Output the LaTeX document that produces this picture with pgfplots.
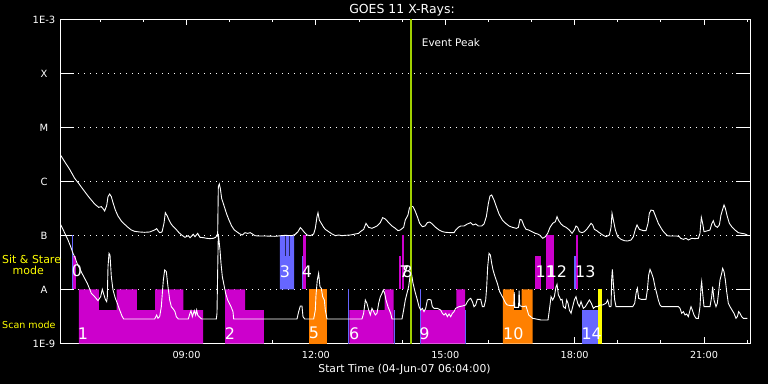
\documentclass[border=0pt]{standalone}
\usepackage{fontspec}
\setmainfont{DejaVu Sans}
\usepackage{pgfplots}
\pgfplotsset{compat=1.18}
\definecolor{mag}{RGB}{204,0,204}
\definecolor{sblue}{RGB}{102,102,255}
\definecolor{orng}{RGB}{255,128,0}
\definecolor{yel}{RGB}{255,255,0}
\definecolor{evt}{RGB}{160,208,0}
\begin{document}
\begin{tikzpicture}
\fill[black] (0,0) rectangle (768bp,384bp);
\path[use as bounding box] (0,0) rectangle (768bp,384bp);
\begin{axis}[
  at={(60bp,40.5bp)}, anchor=south west,
  scale only axis, width=690bp, height=324bp,
  xmin=6.0667, xmax=22.0667, ymin=-9, ymax=-3,
  axis line style={white, line width=1bp},
  xtick={9,12,15,18,21},
  xticklabels={09:00,12:00,15:00,18:00,21:00},
  minor xtick={7,8,10,11,13,14,16,17,19,20,22},
  ytick={-9,-8,-7,-6,-5,-4,-3},
  yticklabels={1E-9,A,B,C,M,X,1E-3},
  tick align=inside,
  tick style={white, line width=1bp},
  major tick length=6bp, minor tick length=3bp,
  ytick style={/pgfplots/major tick length=14bp},
  ymajorgrids,
  major grid style={white, line width=1bp, dash pattern=on 1bp off 5bp},
  ticklabel style={text=white},
  xticklabel style={font=\fontsize{9.7}{11}\selectfont, anchor=base, yshift=-14.8bp},
  yticklabel style={font=\fontsize{10}{12}\selectfont, anchor=center, xshift=-16bp},
  clip=true,
]
% ---- Scan mode / Sit & Stare bars ----
\addplot[fill=mag, draw=none] coordinates {(6.507,-9) (6.507,-8) (6.971,-8) (6.971,-8.38) (7.381,-8.38) (7.381,-8) (7.852,-8) (7.852,-8.38) (8.270,-8.38) (8.270,-8) (8.926,-8) (8.926,-8.38) (9.383,-8.38) (9.383,-9)} -- cycle;
\addplot[fill=mag, draw=none] coordinates {(9.893,-9) (9.893,-8) (10.357,-8) (10.357,-8.38) (10.797,-8.38) (10.797,-9)} -- cycle;
\addplot[fill=mag, draw=none] coordinates {(12.775,-9) (12.775,-8.38) (13.596,-8.38) (13.596,-8) (13.805,-8) (13.805,-9)} -- cycle;
\addplot[fill=mag, draw=none] coordinates {(14.438,-9) (14.438,-8.38) (15.256,-8.38) (15.256,-8) (15.458,-8) (15.458,-9)} -- cycle;
\addplot[fill=mag, draw=none] coordinates {(6.375,-8) (6.375,-7.38) (6.438,-7.38) (6.438,-8)} -- cycle;
\addplot[fill=mag, draw=none] coordinates {(11.702,-8) (11.702,-7) (11.764,-7) (11.764,-8)} -- cycle;
\addplot[fill=mag, draw=none] coordinates {(13.928,-8) (13.928,-7.38) (13.974,-7.38) (13.974,-8)} -- cycle;
\addplot[fill=mag, draw=none] coordinates {(13.997,-8) (13.997,-7) (14.037,-7) (14.037,-8)} -- cycle;
\addplot[fill=mag, draw=none] coordinates {(17.081,-8) (17.081,-7.38) (17.220,-7.38) (17.220,-8)} -- cycle;
\addplot[fill=mag, draw=none] coordinates {(17.336,-8) (17.336,-7) (17.515,-7) (17.515,-8)} -- cycle;
\addplot[fill=mag, draw=none] coordinates {(18.025,-8) (18.025,-7) (18.072,-7) (18.072,-8)} -- cycle;
\addplot[fill=sblue, draw=none] coordinates {(6.338,-8) (6.338,-7) (6.375,-7) (6.375,-8)} -- cycle;
\addplot[fill=sblue, draw=none] coordinates {(11.168,-8) (11.168,-7) (11.280,-7) (11.280,-7.38) (11.300,-7.38) (11.300,-7) (11.378,-7) (11.378,-7.38) (11.398,-7.38) (11.398,-7) (11.493,-7) (11.493,-8)} -- cycle;
\addplot[fill=sblue, draw=none] coordinates {(11.678,-8) (11.678,-7.38) (11.702,-7.38) (11.702,-8)} -- cycle;
\addplot[fill=sblue, draw=none] coordinates {(12.745,-9) (12.745,-8) (12.775,-8) (12.775,-9)} -- cycle;
\addplot[fill=sblue, draw=none] coordinates {(13.805,-9) (13.805,-8.38) (13.828,-8.38) (13.828,-9)} -- cycle;
\addplot[fill=sblue, draw=none] coordinates {(14.415,-9) (14.415,-8) (14.438,-8) (14.438,-9)} -- cycle;
\addplot[fill=sblue, draw=none] coordinates {(15.458,-9) (15.458,-8.38) (15.481,-8.38) (15.481,-9)} -- cycle;
\addplot[fill=sblue, draw=none] coordinates {(17.986,-8) (17.986,-7.38) (18.025,-7.38) (18.025,-8)} -- cycle;
\addplot[fill=sblue, draw=none] coordinates {(18.171,-9) (18.171,-8.38) (18.535,-8.38) (18.535,-9)} -- cycle;
\addplot[fill=orng, draw=none] coordinates {(11.841,-9) (11.841,-8) (12.251,-8) (12.251,-9)} -- cycle;
\addplot[fill=orng, draw=none] coordinates {(16.339,-9) (16.339,-8) (16.594,-8) (16.594,-8.38) (16.773,-8.38) (16.773,-8) (17.028,-8) (17.028,-9)} -- cycle;
\addplot[fill=yel, draw=none] coordinates {(18.535,-9) (18.535,-8) (18.635,-8) (18.635,-9)} -- cycle;
% ---- long channel ----
\addplot[white, line width=0.9bp] coordinates {
(6.070,-5.50) (6.175,-5.633) (6.291,-5.775) (6.407,-5.941) (6.499,-6.034) (6.600,-6.145) (6.716,-6.268) (6.793,-6.343) (6.870,-6.417) (6.963,-6.478) (7.025,-6.466) (7.071,-6.509) (7.102,-6.546) (7.149,-6.448) (7.180,-6.281) (7.218,-6.232) (7.257,-6.281) (7.296,-6.392) (7.350,-6.528) (7.411,-6.639) (7.489,-6.732) (7.566,-6.793) (7.643,-6.849) (7.721,-6.898) (7.798,-6.923) (7.914,-6.935) (8.030,-6.941) (8.146,-6.935) (8.262,-6.898) (8.308,-6.873) (8.339,-6.910) (8.378,-6.948) (8.432,-6.935) (8.478,-6.775) (8.509,-6.577) (8.555,-6.639) (8.594,-6.713) (8.648,-6.793) (8.710,-6.849) (8.733,-6.867) (8.772,-6.898) (8.826,-6.948) (8.888,-6.991) (8.965,-7.034) (9.042,-7.003) (9.081,-7.040) (9.158,-6.978) (9.197,-7.022) (9.259,-6.960) (9.313,-7.034) (9.390,-7.040) (9.467,-7.052) (9.545,-7.059) (9.622,-7.052) (9.676,-7.034) (9.707,-6.991) (9.722,-7.009) (9.738,-6.096) (9.761,-6.046) (9.784,-6.127) (9.815,-6.312) (9.877,-6.466) (9.931,-6.602) (9.985,-6.713) (10.047,-6.824) (10.109,-6.898) (10.163,-6.929) (10.240,-6.972) (10.294,-6.991) (10.356,-6.948) (10.418,-6.960) (10.480,-6.948) (10.526,-6.972) (10.588,-7.003) (10.666,-7.009) (10.820,-7.009) (11.052,-7.015) (11.284,-6.997) (11.446,-7.003) (11.523,-6.978) (11.585,-6.929) (11.639,-6.855) (11.678,-6.886) (11.740,-6.948) (11.794,-6.991) (11.871,-7.003) (11.949,-6.972) (11.987,-6.867) (12.026,-6.651) (12.049,-6.577) (12.080,-6.713) (12.126,-6.775) (12.180,-6.849) (12.219,-6.886) (12.296,-6.929) (12.374,-6.972) (12.451,-7.003) (12.528,-6.991) (12.606,-7.003) (12.683,-6.997) (12.799,-6.991) (12.876,-6.978) (12.992,-6.960) (13.031,-6.929) (13.108,-6.886) (13.162,-6.775) (13.224,-6.849) (13.301,-6.867) (13.417,-6.824) (13.494,-6.762) (13.548,-6.670) (13.610,-6.694) (13.688,-6.762) (13.765,-6.824) (13.842,-6.867) (13.904,-6.910) (13.958,-6.898) (14.035,-6.849) (14.074,-6.713) (14.136,-6.620) (14.167,-6.497) (14.198,-6.454) (14.253,-6.466) (14.299,-6.540) (14.353,-6.651) (14.407,-6.775) (14.469,-6.836) (14.531,-6.824) (14.585,-6.762) (14.639,-6.750) (14.701,-6.787) (14.778,-6.849) (14.856,-6.898) (14.933,-6.929) (15.010,-6.941) (15.126,-6.948) (15.204,-6.948) (15.242,-6.898) (15.304,-6.849) (15.358,-6.824) (15.435,-6.824) (15.513,-6.787) (15.590,-6.762) (15.644,-6.805) (15.706,-6.787) (15.768,-6.824) (15.845,-6.824) (15.899,-6.787) (15.953,-6.651) (16.000,-6.404) (16.038,-6.268) (16.077,-6.250) (16.131,-6.343) (16.185,-6.466) (16.247,-6.602) (16.324,-6.713) (16.402,-6.775) (16.479,-6.824) (16.556,-6.849) (16.649,-6.867) (16.695,-6.849) (16.734,-6.701) (16.773,-6.713) (16.827,-6.824) (16.873,-6.886) (16.935,-6.898) (17.012,-6.929) (17.089,-6.960) (17.144,-6.972) (17.198,-6.997) (17.260,-7.052) (17.321,-7.022) (17.375,-6.960) (17.429,-6.849) (17.491,-6.775) (17.553,-6.744) (17.592,-6.651) (17.623,-6.713) (17.685,-6.787) (17.739,-6.824) (17.801,-6.849) (17.878,-6.898) (17.940,-6.960) (17.994,-6.898) (18.032,-6.824) (18.071,-6.849) (18.110,-6.929) (18.172,-6.948) (18.226,-6.929) (18.280,-6.886) (18.326,-6.836) (18.380,-6.775) (18.419,-6.805) (18.458,-6.886) (18.512,-6.910) (18.574,-6.948) (18.651,-6.991) (18.728,-7.022) (18.806,-6.991) (18.844,-6.849) (18.867,-6.590) (18.898,-6.713) (18.945,-6.898) (18.999,-7.022) (19.076,-7.071) (19.153,-7.096) (19.230,-7.102) (19.308,-7.083) (19.362,-7.022) (19.408,-6.886) (19.447,-6.805) (19.501,-6.886) (19.593,-6.910) (19.655,-6.910) (19.702,-6.775) (19.732,-6.590) (19.771,-6.528) (19.825,-6.540) (19.887,-6.664) (19.941,-6.775) (19.995,-6.849) (20.042,-6.910) (20.096,-6.960) (20.150,-7.003) (20.212,-7.009) (20.366,-7.009) (20.428,-7.022) (20.459,-7.052) (20.521,-7.071) (20.583,-7.052) (20.637,-7.083) (20.714,-7.052) (20.792,-7.059) (20.869,-7.052) (20.907,-6.960) (20.938,-6.664) (20.969,-6.775) (21.000,-6.929) (21.062,-6.917) (21.139,-6.898) (21.178,-6.787) (21.216,-6.725) (21.255,-6.818) (21.309,-6.849) (21.356,-6.805) (21.394,-6.620) (21.433,-6.515) (21.464,-6.435) (21.495,-6.497) (21.541,-6.651) (21.588,-6.775) (21.642,-6.836) (21.719,-6.898) (21.796,-6.948) (21.874,-6.960) (21.951,-6.972) (22.005,-6.991)
};
% ---- short channel ----
\addplot[white, line width=0.9bp] coordinates {
(6.070,-6.78) (6.136,-6.886) (6.190,-6.978) (6.252,-7.083) (6.314,-7.207) (6.368,-7.330) (6.422,-7.423) (6.468,-7.528) (6.522,-7.608) (6.577,-7.701) (6.638,-7.793) (6.700,-7.886) (6.754,-7.991) (6.793,-8.071) (6.870,-8.133) (6.948,-8.207) (7.009,-8.133) (7.048,-7.997) (7.087,-8.102) (7.118,-8.182) (7.149,-8.225) (7.164,-8.133) (7.180,-7.577) (7.203,-7.330) (7.226,-7.361) (7.257,-7.762) (7.296,-8.009) (7.350,-8.164) (7.396,-8.256) (7.450,-8.380) (7.504,-8.491) (7.543,-8.546) (8.262,-8.546) (8.308,-8.472) (8.339,-8.534) (8.378,-8.503) (8.416,-8.318) (8.463,-7.824) (8.494,-7.639) (8.532,-7.670) (8.571,-7.948) (8.610,-8.194) (8.648,-8.318) (8.710,-8.380) (8.733,-8.410) (8.764,-8.503) (8.810,-8.546) (9.042,-8.546) (9.081,-8.441) (9.104,-8.392) (9.135,-8.503) (9.181,-8.392) (9.212,-8.472) (9.236,-8.380) (9.259,-8.472) (9.290,-8.503) (9.351,-8.546) (9.692,-8.546) (9.707,-8.441) (9.722,-7.701) (9.738,-6.972) (9.753,-7.083) (9.777,-7.269) (9.800,-7.515) (9.831,-7.762) (9.877,-7.948) (9.908,-8.071) (9.954,-8.194) (10.032,-8.318) (10.078,-8.410) (10.094,-8.546) (11.562,-8.546) (11.601,-8.410) (11.639,-8.306) (11.678,-8.306) (11.701,-8.503) (11.740,-8.546) (11.949,-8.546) (11.987,-8.380) (12.003,-8.102) (12.033,-7.824) (12.064,-7.701) (12.095,-7.948) (12.126,-7.978) (12.157,-8.133) (12.196,-8.194) (12.219,-8.380) (12.258,-8.546) (13.069,-8.546) (13.108,-8.441) (13.147,-8.194) (13.185,-8.256) (13.224,-8.380) (13.263,-8.472) (13.301,-8.349) (13.340,-8.410) (13.379,-8.472) (13.417,-8.441) (13.456,-8.256) (13.494,-8.133) (13.533,-8.071) (13.564,-8.009) (13.595,-8.071) (13.626,-8.194) (13.672,-8.318) (13.734,-8.441) (13.765,-8.546) (13.997,-8.546) (14.035,-8.380) (14.074,-8.194) (14.113,-8.071) (14.151,-7.948) (14.182,-7.762) (14.200,-7.701) (14.222,-7.731) (14.253,-7.886) (14.299,-8.040) (14.353,-8.194) (14.392,-8.318) (14.431,-8.380) (14.469,-8.349) (14.508,-8.410) (14.547,-8.349) (14.585,-8.194) (14.624,-8.182) (14.670,-8.194) (14.701,-8.318) (14.740,-8.349) (14.817,-8.349) (14.894,-8.380) (14.933,-8.441) (14.972,-8.472) (15.010,-8.441) (15.049,-8.503) (15.088,-8.454) (15.126,-8.503) (15.165,-8.441) (15.204,-8.410) (15.242,-8.349) (15.320,-8.318) (15.397,-8.306) (15.474,-8.287) (15.513,-8.225) (15.551,-8.182) (15.590,-8.164) (15.629,-8.225) (15.667,-8.318) (15.706,-8.287) (15.744,-8.182) (15.822,-8.182) (15.861,-8.318) (15.899,-8.318) (15.938,-8.194) (15.961,-7.948) (15.984,-7.577) (16.015,-7.330) (16.046,-7.361) (16.077,-7.515) (16.108,-7.639) (16.154,-7.762) (16.208,-7.886) (16.262,-8.040) (16.324,-8.133) (16.363,-8.194) (16.402,-8.256) (16.440,-8.287) (16.518,-8.300) (16.590,-8.300) (16.600,-8.05) (16.610,-8.33) (16.700,-8.33) (16.712,-8.02) (16.730,-8.30) (16.800,-8.32) (16.873,-8.306) (16.935,-8.472) (17.027,-8.534) (17.105,-8.546) (17.221,-8.565) (17.383,-8.565) (17.414,-8.380) (17.453,-8.133) (17.491,-8.194) (17.530,-8.133) (17.569,-7.948) (17.592,-7.904) (17.623,-8.102) (17.646,-8.133) (17.677,-8.194) (17.708,-8.182) (17.739,-8.318) (17.785,-8.349) (17.816,-8.194) (17.847,-8.256) (17.878,-8.380) (17.917,-8.441) (17.955,-8.318) (17.994,-8.194) (18.032,-8.133) (18.071,-8.256) (18.110,-8.318) (18.148,-8.225) (18.202,-8.349) (18.249,-8.318) (18.295,-8.256) (18.342,-8.194) (18.388,-8.256) (18.434,-8.349) (18.481,-8.318) (18.527,-8.318) (18.589,-8.287) (18.651,-8.287) (18.728,-8.256) (18.767,-8.194) (18.806,-8.318) (18.844,-8.318) (18.860,-7.793) (18.875,-7.627) (18.898,-7.886) (18.929,-8.194) (18.960,-8.318) (19.346,-8.318) (19.393,-8.256) (19.424,-8.071) (19.455,-7.978) (19.486,-8.164) (19.540,-8.182) (19.655,-8.182) (19.686,-8.009) (19.717,-7.731) (19.748,-7.627) (19.787,-7.701) (19.825,-7.793) (19.864,-7.948) (19.903,-8.071) (19.941,-8.194) (19.980,-8.287) (20.018,-8.318) (20.405,-8.318) (20.444,-8.349) (20.482,-8.441) (20.521,-8.410) (20.560,-8.472) (20.598,-8.454) (20.637,-8.503) (20.676,-8.380) (20.699,-8.318) (20.730,-8.380) (20.768,-8.472) (20.815,-8.534) (20.869,-8.534) (20.907,-8.318) (20.931,-7.948) (20.946,-7.855) (20.969,-8.071) (21.000,-8.318) (21.139,-8.318) (21.178,-8.133) (21.201,-7.948) (21.232,-8.194) (21.278,-8.318) (21.309,-8.256) (21.340,-8.040) (21.371,-7.824) (21.410,-7.701) (21.433,-7.608) (21.464,-7.670) (21.495,-7.824) (21.526,-8.040) (21.564,-8.256) (21.603,-8.318) (21.649,-8.380) (21.696,-8.441) (21.742,-8.534) (21.773,-8.503) (21.804,-8.410) (21.835,-8.441) (21.874,-8.503) (21.912,-8.534) (22.005,-8.534)
};
% ---- event peak ----
\addplot[evt, line width=2bp] coordinates {(14.2,-9) (14.2,-3)};
\node[anchor=west, text=white, font=\fontsize{10.5}{12}\selectfont, inner sep=0pt] at (axis cs:14.454,-3.435) {Event Peak};
% ---- observation numbers ----
\begin{scope}[every node/.style={text=white, font=\fontsize{16}{18}\selectfont, inner sep=0pt}]
\node at (axis cs:6.461,-7.657) {0};
\node at (axis cs:6.600,-8.811) {1};
\node at (axis cs:10.009,-8.811) {2};
\node at (axis cs:11.284,-7.670) {3};
\node at (axis cs:11.794,-7.670) {4};
\node at (axis cs:11.957,-8.811) {5};
\node at (axis cs:12.889,-8.811) {6};
\node at (axis cs:14.055,-7.670) {7};
\node at (axis cs:14.125,-7.670) {8};
\node at (axis cs:14.519,-8.811) {9};
\node at (axis cs:16.578,-8.811) {10};
\node at (axis cs:17.330,-7.670) {11};
\node at (axis cs:17.590,-7.670) {12};
\node at (axis cs:18.247,-7.670) {13};
\node at (axis cs:18.395,-8.811) {14};
\end{scope}
\end{axis}
\node[anchor=base, text=white, font=\fontsize{12.5}{14}\selectfont, inner sep=0pt] at (402bp,370bp) {GOES 11 X-Rays:};
\node[anchor=base, text=white, font=\fontsize{10.8}{12}\selectfont, inner sep=0pt] at (404.5bp,11.3bp) {Start Time (04-Jun-07 06:04:00)};
\node[anchor=base west, text=yel, font=\fontsize{11}{12}\selectfont, inner sep=0pt] at (2bp,120.7bp) {Sit \& Stare};
\node[anchor=base west, text=yel, font=\fontsize{11}{12}\selectfont, inner sep=0pt] at (12.5bp,109bp) {mode};
\node[anchor=base west, text=yel, font=\fontsize{9.6}{11}\selectfont, inner sep=0pt] at (2bp,55.7bp) {Scan mode};
\end{tikzpicture}
\end{document}
